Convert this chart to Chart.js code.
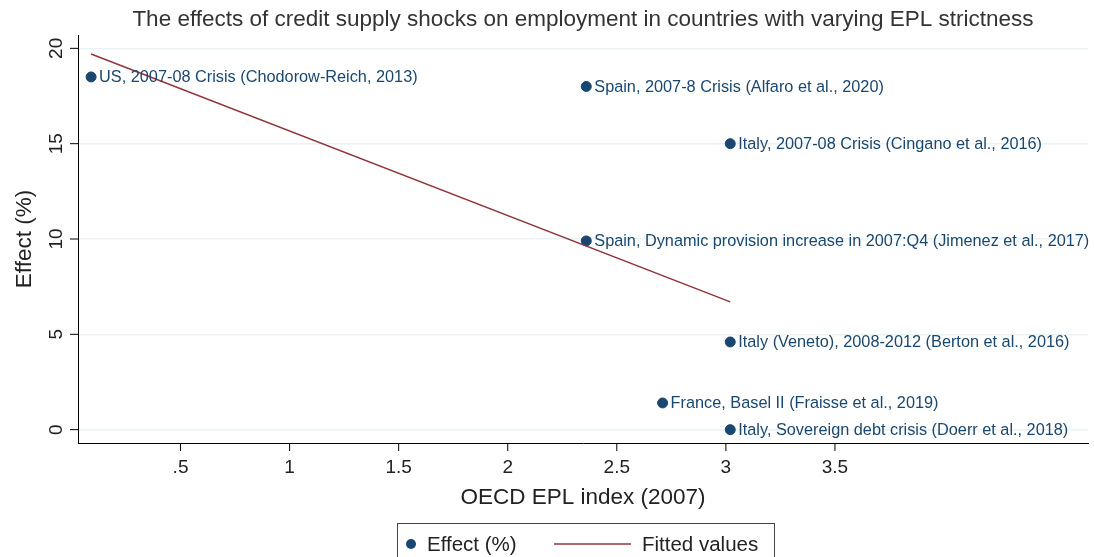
<!DOCTYPE html>
<html>
<head>
<meta charset="utf-8">
<script src="https://cdn.jsdelivr.net/npm/chart.js@4"></script>
<style>
  html, body { margin: 0; padding: 0; background: #fff; }
  canvas { display: block; }
</style>
</head>
<body>
<canvas id="chart" width="1094" height="557"></canvas>
<script>
// study points: EPL index (x), effect in % (y), label
const eplIndex = [0.09, 2.36, 3.02, 2.36, 3.02, 2.71, 3.02];
const effects = [18.5, 18.0, 15.0, 9.9, 4.6, 1.4, 0.0];
const studyLabels = [
  "US, 2007-08 Crisis (Chodorow-Reich, 2013)",
  "Spain, 2007-8 Crisis (Alfaro et al., 2020)",
  "Italy, 2007-08 Crisis (Cingano et al., 2016)",
  "Spain, Dynamic provision increase in 2007:Q4 (Jimenez et al., 2017)",
  "Italy (Veneto), 2008-2012 (Berton et al., 2016)",
  "France, Basel II (Fraisse et al., 2019)",
  "Italy, Sovereign debt crisis (Doerr et al., 2018)"
];
// fitted line end points
const fitX = [0.09, 3.02];
const fitY = [19.7, 6.7];

const xTicks = [0.5, 1, 1.5, 2, 2.5, 3, 3.5];
const xTickLabels = [".5", "1", "1.5", "2", "2.5", "3", "3.5"];
const yTicks = [0, 5, 10, 15, 20];

const navy = "#1a476f";
const maroon = "#90353b";
const font = "'Liberation Sans', Arial, sans-serif";

const decor = {
  id: "decor",
  afterDraw(chart) {
    const ctx = chart.ctx;
    const xs = chart.scales.x, ys = chart.scales.y;
    const area = chart.chartArea;
    ctx.save();
    ctx.strokeStyle = "#000";
    ctx.fillStyle = "#222";
    ctx.lineWidth = 1;

    // y ticks (rotated labels, Stata style)
    ctx.font = "19px " + font;
    ctx.textAlign = "center";
    ctx.textBaseline = "middle";
    yTicks.forEach(v => {
      const py = ys.getPixelForValue(v);
      ctx.beginPath();
      ctx.moveTo(area.left - 8, py);
      ctx.lineTo(area.left, py);
      ctx.stroke();
      ctx.save();
      ctx.translate(area.left - 21, py);
      ctx.rotate(-Math.PI / 2);
      ctx.fillText(String(v), 0, 0);
      ctx.restore();
    });

    // x ticks
    ctx.textBaseline = "middle";
    xTicks.forEach((v, i) => {
      const px = xs.getPixelForValue(v);
      ctx.beginPath();
      ctx.moveTo(px, area.bottom);
      ctx.lineTo(px, area.bottom + 8);
      ctx.stroke();
      ctx.fillText(xTickLabels[i], px, area.bottom + 25);
    });

    // titles
    const cx = (area.left + area.right) / 2;
    ctx.fillStyle = "#333";
    ctx.font = "22.5px " + font;
    ctx.fillText("The effects of credit supply shocks on employment in countries with varying EPL strictness", cx, 20);
    ctx.fillStyle = "#222";
    ctx.fillText("OECD EPL index (2007)", cx, 498);
    ctx.save();
    ctx.translate(25, (area.top + area.bottom) / 2);
    ctx.rotate(-Math.PI / 2);
    ctx.fillText("Effect (%)", 0, 0);
    ctx.restore();

    // point labels
    ctx.font = "16.3px " + font;
    ctx.fillStyle = navy;
    ctx.textAlign = "left";
    eplIndex.forEach((v, i) => {
      const px = xs.getPixelForValue(v);
      const py = ys.getPixelForValue(effects[i]);
      ctx.fillText(studyLabels[i], px + 8, py + 1);
    });

    // legend
    ctx.strokeStyle = "#444";
    ctx.strokeRect(397.5, 523.5, 377, 40);
    ctx.fillStyle = navy;
    ctx.beginPath();
    ctx.arc(411, 544, 5, 0, Math.PI * 2);
    ctx.fill();
    ctx.fillStyle = "#222";
    ctx.font = "20.5px " + font;
    ctx.fillText("Effect (%)", 427, 545);
    ctx.strokeStyle = maroon;
    ctx.lineWidth = 1.5;
    ctx.beginPath();
    ctx.moveTo(554, 544);
    ctx.lineTo(631, 544);
    ctx.stroke();
    ctx.fillText("Fitted values", 642, 545);
    ctx.restore();
  }
};

new Chart(document.getElementById("chart"), {
  data: {
    datasets: [
      {
        type: "scatter",
        label: "Effect (%)",
        data: eplIndex.map((x, i) => ({ x, y: effects[i] })),
        backgroundColor: navy,
        borderColor: navy,
        pointRadius: 5,
        order: 1
      },
      {
        type: "line",
        label: "Fitted values",
        data: fitX.map((x, i) => ({ x, y: fitY[i] })),
        borderColor: maroon,
        borderWidth: 1.5,
        pointRadius: 0,
        fill: false,
        order: 0
      }
    ]
  },
  options: {
    responsive: false,
    animation: false,
    devicePixelRatio: 1,
    layout: { padding: { left: 78, right: 6, top: 35, bottom: 114 } },
    plugins: { legend: { display: false }, tooltip: { enabled: false } },
    scales: {
      x: {
        type: "linear",
        min: 0.03,
        max: 4.66,
        ticks: { display: false },
        grid: { display: false, drawTicks: false },
        border: { color: "#000", width: 1 }
      },
      y: {
        type: "linear",
        min: -0.7,
        max: 20.7,
        afterBuildTicks: s => { s.ticks = yTicks.map(v => ({ value: v })); },
        ticks: { display: false },
        grid: { color: "#eaf2f3", lineWidth: 1.5, drawTicks: false },
        border: { color: "#000", width: 1 }
      }
    }
  },
  plugins: [decor]
});
</script>
</body>
</html>
